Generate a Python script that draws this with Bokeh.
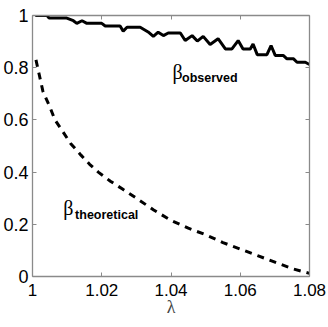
from bokeh.plotting import figure
from bokeh.models import LinearAxis, FixedTicker, Range1d, Label
from bokeh.embed import file_html
from bokeh.resources import INLINE

# ---- data ----
lam_obs = [1.0008, 1.0042, 1.0048, 1.0099, 1.0118, 1.0128, 1.0143, 1.0157, 1.0200,
           1.0210, 1.0253, 1.0262, 1.0273, 1.0311, 1.0334, 1.0349, 1.0363, 1.0378,
           1.0392, 1.0427, 1.0441, 1.0461, 1.0476, 1.0493, 1.0513, 1.0536, 1.0557,
           1.0576, 1.0594, 1.0608, 1.0629, 1.0637, 1.0649, 1.0677, 1.0689, 1.0701,
           1.0724, 1.0735, 1.0754, 1.0764, 1.0788, 1.0800]
beta_obs = [1.000, 1.000, 0.990, 0.990, 0.980, 0.970, 0.980, 0.970, 0.970,
            0.960, 0.960, 0.940, 0.955, 0.955, 0.937, 0.920, 0.936, 0.923,
            0.933, 0.933, 0.904, 0.923, 0.902, 0.920, 0.889, 0.911, 0.872,
            0.872, 0.904, 0.872, 0.872, 0.891, 0.850, 0.850, 0.885, 0.847,
            0.847, 0.834, 0.834, 0.821, 0.821, 0.812]

lam_theo = [1.001, 1.002, 1.003, 1.005, 1.0065, 1.0085, 1.011, 1.014, 1.0165, 1.019,
            1.0225, 1.026, 1.030, 1.035, 1.040, 1.045, 1.050, 1.055, 1.060, 1.065,
            1.070, 1.075, 1.080]
beta_theo = [0.83, 0.77, 0.71, 0.65, 0.60, 0.56, 0.51, 0.465, 0.43, 0.40,
             0.365, 0.335, 0.30, 0.255, 0.215, 0.185, 0.16, 0.13, 0.105, 0.08,
             0.055, 0.03, 0.012]

x_ticks = [1.00, 1.02, 1.04, 1.06, 1.08]
x_tick_labels = ["1", "1.02", "1.04", "1.06", "1.08"]
y_ticks = [0, 0.2, 0.4, 0.6, 0.8, 1]
y_tick_labels = ["0", "0.2", "0.4", "0.6", "0.8", "1"]

label_obs = ("β", "observed", 1.0404, 0.782, 1.0432, 0.759)
label_theo = ("β", "theoretical", 1.0089, 0.264, 1.0123, 0.234)

# ---- figure ----
AX = "#8a8a8a"
TICK_FONT = "Liberation Sans"

p = figure(width=328, height=327, output_backend="svg", toolbar_location=None,
           x_range=Range1d(1.0, 1.08), y_range=Range1d(0, 1),
           x_axis_location=None, y_axis_location=None,
           min_border_left=32, min_border_right=19, min_border_top=15, min_border_bottom=51)
p.grid.visible = False
p.outline_line_color = None
p.background_fill_color = "white"
p.border_fill_color = "white"


def make_axis(ticks, labels, show_labels):
    ax = LinearAxis(ticker=FixedTicker(ticks=ticks))
    ax.axis_line_color = AX
    ax.axis_line_width = 1.3
    ax.major_tick_line_color = AX
    ax.major_tick_in = 4
    ax.major_tick_out = 0
    ax.minor_tick_line_color = None
    ax.major_label_text_font = TICK_FONT
    ax.major_label_text_color = "black"
    if show_labels:
        ax.major_label_overrides = {t: l for t, l in zip(ticks, labels)}
        ax.major_label_text_font_size = "17px"
    else:
        ax.major_label_overrides = {t: "" for t in ticks}
        ax.major_label_text_font_size = "1px"
        ax.major_label_standoff = 0
    return ax


xb = make_axis(x_ticks, x_tick_labels, True)
xb.major_label_standoff = 7
xb.axis_label = "λ"
xb.axis_label_text_font = "Liberation Serif"
xb.axis_label_text_font_style = "normal"
xb.axis_label_text_font_size = "18px"
xb.axis_label_standoff = -2
p.add_layout(xb, "below")

yl = make_axis(y_ticks, y_tick_labels, True)
yl.major_label_text_font_size = "18px"
yl.major_label_standoff = 4
p.add_layout(yl, "left")

xt = make_axis(x_ticks, x_tick_labels, False)
p.add_layout(xt, "above")
yr = make_axis(y_ticks, y_tick_labels, False)
p.add_layout(yr, "right")

p.line(lam_obs, beta_obs, line_color="black", line_width=3)
p.line(lam_theo, beta_theo, line_color="black", line_width=3, line_dash="7 6")

for sym, sub, bx, by, sx, sy in (label_obs, label_theo):
    p.add_layout(Label(x=bx, y=by, text=sym, text_font="Liberation Serif",
                       text_font_size="20px", text_color="black",
                       text_baseline="alphabetic", text_align="left"))
    p.add_layout(Label(x=sx, y=sy, text=sub, text_font=TICK_FONT,
                       text_font_size="12.5px", text_font_style="bold",
                       text_color="black", text_baseline="alphabetic",
                       text_align="left"))

open("out.html", "w").write(file_html(p, INLINE))
